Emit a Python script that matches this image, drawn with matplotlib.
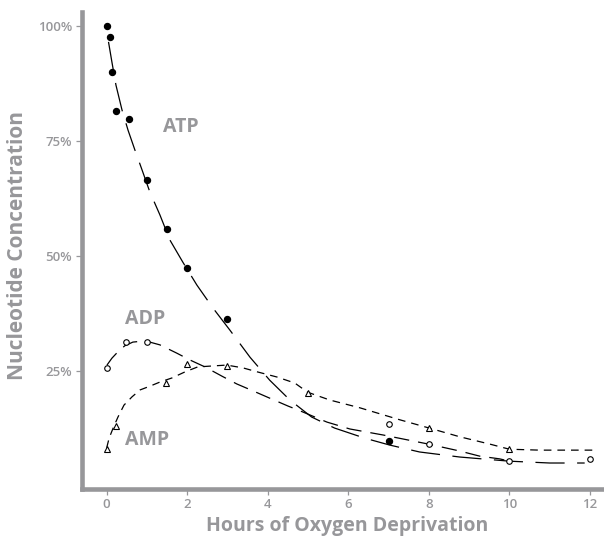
import matplotlib
matplotlib.use("Agg")
import matplotlib.pyplot as plt

# ---- measured data points ----
atp_hours = [0.0, 0.07, 0.13, 0.22, 0.55, 1.0, 1.5, 2.0, 3.0, 7.0]
atp_pct = [100.0, 97.5, 90.0, 81.5, 79.7, 66.4, 55.8, 47.3, 36.2, 9.7]

adp_hours = [0.0, 0.48, 1.0, 7.0, 8.0, 10.0, 12.0]
adp_pct = [25.6, 31.2, 31.2, 13.4, 9.0, 5.3, 5.8]

amp_hours = [0.0, 0.22, 1.48, 2.0, 3.0, 5.0, 8.0, 10.0]
amp_pct = [7.9, 12.9, 22.4, 26.4, 26.1, 20.2, 12.6, 7.9]

# ---- fitted curves ----
atp_fit_x = [0.045, 0.13, 0.23, 0.38, 0.53, 0.70, 0.88, 1.07, 1.32, 1.57, 1.89, 2.24,
             2.64, 3.06, 3.56, 4.05, 4.55, 5.09, 5.66, 6.41, 7.03, 7.77, 8.77, 10.0,
             11.0, 11.87]
atp_fit_y = [96.5, 92.1, 87.1, 81.7, 77.3, 73.0, 68.6, 63.9, 58.9, 53.4, 48.6, 43.6,
             38.6, 33.8, 27.9, 22.9, 18.6, 14.9, 12.5, 10.3, 8.8, 7.3, 6.2, 5.3,
             4.9, 4.9]

adp_fit_x = [0.007, 0.13, 0.28, 0.45, 0.65, 0.88, 1.07, 1.32, 1.74, 2.07, 2.44, 2.86,
             3.23, 3.63, 4.05, 4.50, 4.87, 5.47, 6.04, 6.86, 8.0, 8.77, 9.26, 9.76, 10.0]
adp_fit_y = [26.2, 27.7, 29.1, 30.4, 31.2, 31.4, 31.2, 30.6, 28.8, 27.3, 25.8, 23.8,
             22.1, 20.6, 19.0, 17.3, 16.0, 13.8, 12.3, 11.0, 9.0, 7.5, 6.4, 5.8, 5.3]

amp_fit_x = [0.0, 0.06, 0.16, 0.28, 0.43, 0.63, 0.83, 1.07, 1.32, 1.62, 1.94, 2.26,
             2.61, 2.98, 3.38, 3.75, 4.23, 4.67, 4.99, 5.54, 6.29, 7.28, 7.97, 8.77,
             9.52, 10.0, 10.75, 12.07]
amp_fit_y = [8.2, 10.3, 12.5, 14.9, 17.5, 19.3, 20.8, 21.6, 22.5, 23.4, 24.7, 25.8,
             26.0, 26.2, 25.6, 24.7, 23.6, 22.3, 20.3, 18.6, 16.9, 14.3, 12.6, 10.6,
             9.0, 7.9, 7.7, 7.7]

x_ticks = [0, 2, 4, 6, 8, 10, 12]
y_ticks = [25, 50, 75, 100]
y_tick_labels = ["25%", "50%", "75%", "100%"]

GRAY = "#97979a"
FONT = "Open Sans"
plt.rcParams["lines.scale_dashes"] = False

fig = plt.figure(figsize=(6.04, 5.45), dpi=100)
ax = fig.add_axes([0.1353, 0.1032, 0.8627, 0.8748])

ax.plot(atp_fit_x, atp_fit_y, color="black", lw=0.9, dashes=(21, 9))
ax.plot(adp_fit_x, adp_fit_y, color="black", lw=0.9, dashes=(11, 6.5))
ax.plot(amp_fit_x, amp_fit_y, color="black", lw=0.9, dashes=(5.5, 4.3))

ax.plot(atp_hours, atp_pct, "o", ms=4.3, color="black", zorder=5)
ax.plot(adp_hours, adp_pct, "o", ms=4, mfc="white", mec="black", mew=0.8, zorder=5)
ax.plot(amp_hours, amp_pct, "^", ms=4.2, mfc="white", mec="black", mew=0.8, zorder=5)

ax.set_xlim(-0.62, 12.32)
ax.set_ylim(-0.7, 103.0)

for side in ["top", "right"]:
    ax.spines[side].set_visible(False)
for side in ["left", "bottom"]:
    ax.spines[side].set_color(GRAY)
    ax.spines[side].set_linewidth(3.3)
    ax.spines[side].set_capstyle("projecting")

ax.set_xticks(x_ticks)
ax.set_xticklabels([str(v) for v in x_ticks])
ax.set_yticks(y_ticks)
ax.set_yticklabels(y_tick_labels)
ax.tick_params(axis="both", colors=GRAY, length=4, width=0.9, labelsize=9.5)
ax.tick_params(axis="x", pad=3)
ax.tick_params(axis="y", pad=3)
for lab in ax.get_xticklabels() + ax.get_yticklabels():
    lab.set_fontfamily(FONT)
    lab.set_fontweight("semibold")
    lab.set_color(GRAY)

ax.set_xlabel("Hours of Oxygen Deprivation", fontsize=14, fontweight="bold",
              color=GRAY, family=FONT)
ax.xaxis.set_label_coords(0.51, -0.058)
ax.set_ylabel("Nucleotide Concentration", fontsize=15, fontweight="bold",
              color=GRAY, family=FONT)
ax.yaxis.set_label_coords(-0.104, 0.51)

ax.text(1.4, 78, "ATP", fontsize=14, fontweight="bold", color=GRAY, family=FONT,
        ha="left", va="center")
ax.text(0.45, 36.3, "ADP", fontsize=14, fontweight="bold", color=GRAY, family=FONT,
        ha="left", va="center")
ax.text(0.45, 9.9, "AMP", fontsize=14, fontweight="bold", color=GRAY, family=FONT,
        ha="left", va="center")

fig.savefig("out.png", dpi=100)
